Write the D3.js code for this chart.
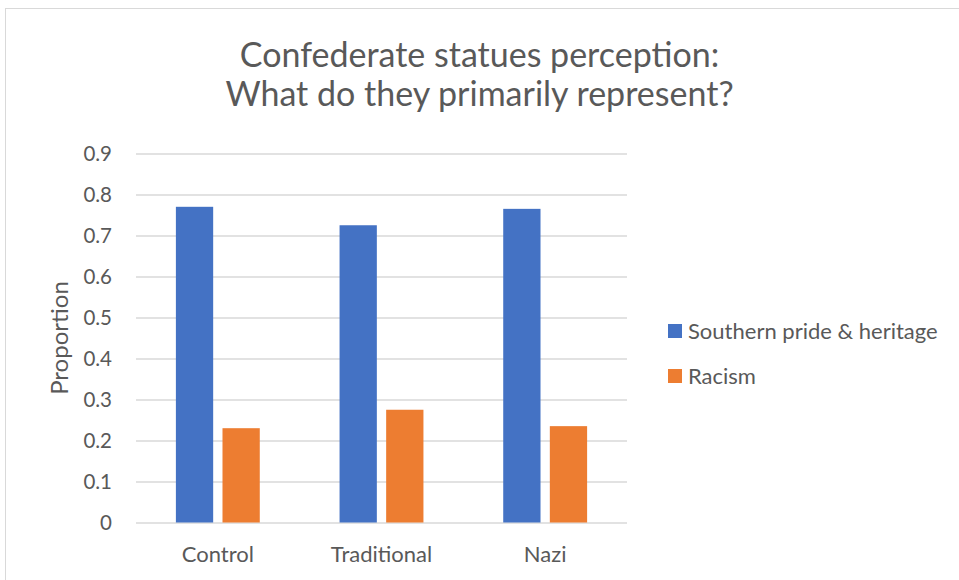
<!DOCTYPE html>
<html>
<head>
<meta charset="utf-8">
<script src="https://cdn.jsdelivr.net/npm/d3@7"></script>
<style>
  html, body { margin: 0; padding: 0; background: #fff; }
  svg { display: block; font-family: Lato, "Open Sans", sans-serif; }
</style>
</head>
<body>
<svg id="chart" width="959" height="580"></svg>
<script>
// Proportion of respondents choosing each meaning, by condition
const categories = ["Control", "Traditional", "Nazi"];
const seriesNames = ["Southern pride & heritage", "Racism"];
const prideValues = [0.77, 0.725, 0.765];
const racismValues = [0.23, 0.275, 0.235];
const yTicks = [0, 0.1, 0.2, 0.3, 0.4, 0.5, 0.6, 0.7, 0.8, 0.9];
const titleLines = ["Confederate statues perception:", "What do they primarily represent?"];
const colors = ["#4472C4", "#ED7D31"];

const seriesValues = [prideValues, racismValues];
const rows = categories.map((c, i) => ({
  category: c,
  values: seriesNames.map((s, j) => ({ series: s, value: seriesValues[j][i] }))
}));

const svg = d3.select("#chart");
const textColor = "#595959";
const gridColor = "#d9d9d9";

// chart frame
svg.append("rect")
  .attr("x", 5.5).attr("y", 8.5)
  .attr("width", 980).attr("height", 600)
  .attr("fill", "#fff").attr("stroke", gridColor).attr("stroke-width", 1);

const plot = { left: 136, right: 627, top: 153.5, bottom: 522.5 };

const x0 = d3.scaleBand().domain(categories).range([plot.left, plot.right]).padding(0);
const x1 = d3.scaleBand().domain(seriesNames).range([0, x0.bandwidth()])
  .paddingInner(0.2).paddingOuter(0.856);
const y = d3.scaleLinear().domain([0, 0.9]).range([plot.bottom, plot.top]);
const color = d3.scaleOrdinal().domain(seriesNames).range(colors);

// gridlines + y labels
const yAxis = d3.axisLeft(y).tickValues(yTicks)
  .tickSize(-(plot.right - plot.left))
  .tickPadding(24)
  .tickFormat(d => d === 0 ? "0" : d3.format(".1f")(d));
const yg = svg.append("g").attr("transform", `translate(${plot.left},0)`).call(yAxis);
yg.select(".domain").remove();
yg.selectAll(".tick line").attr("stroke", gridColor).attr("stroke-width", 1.3);
yg.selectAll(".tick text")
  .attr("fill", textColor).attr("font-size", 20.5).attr("font-family", "Lato, sans-serif");

// bars
const groups = svg.append("g").selectAll("g")
  .data(rows).join("g")
  .attr("transform", d => `translate(${x0(d.category)},0)`);
groups.selectAll("rect")
  .data(d => d.values).join("rect")
  .attr("x", d => x1(d.series))
  .attr("width", x1.bandwidth())
  .attr("y", d => y(d.value))
  .attr("height", d => y(0) - y(d.value))
  .attr("fill", d => color(d.series));

// x axis labels
const xAxis = d3.axisBottom(x0).tickSize(0).tickPadding(24);
const xg = svg.append("g").attr("transform", `translate(0,${plot.bottom})`).call(xAxis);
xg.select(".domain").remove();
xg.selectAll(".tick text")
  .attr("fill", textColor).attr("font-size", 22).attr("font-family", "Lato, sans-serif");

// y axis title
svg.append("text")
  .attr("transform", `translate(68,${(plot.top + plot.bottom) / 2}) rotate(-90)`)
  .attr("text-anchor", "middle")
  .attr("fill", textColor).attr("font-size", 24)
  .text("Proportion");

// title
svg.append("g").selectAll("text")
  .data(titleLines).join("text")
  .attr("x", 479.5)
  .attr("y", (d, i) => 67 + i * 38.5)
  .attr("text-anchor", "middle")
  .attr("fill", textColor).attr("font-size", 34)
  .text(d => d);

// legend
const legend = svg.append("g").selectAll("g")
  .data(seriesNames).join("g")
  .attr("transform", (d, i) => `translate(668,${331 + i * 45})`);
legend.append("rect")
  .attr("x", 0).attr("y", -7).attr("width", 14).attr("height", 14)
  .attr("fill", d => color(d));
legend.append("text")
  .attr("x", 20).attr("y", 0).attr("dy", "0.35em")
  .attr("fill", textColor).attr("font-size", 22)
  .text(d => d);
</script>
</body>
</html>
